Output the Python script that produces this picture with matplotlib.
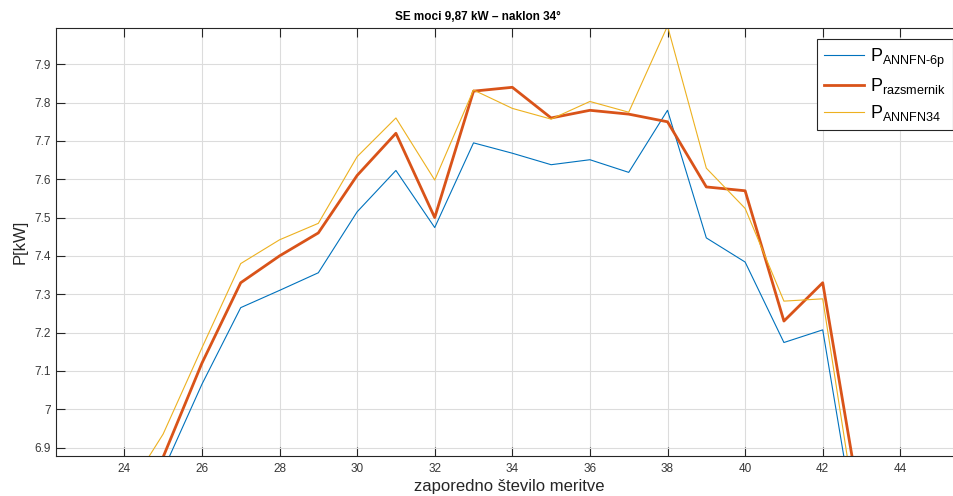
import matplotlib
matplotlib.use("Agg")
import matplotlib.pyplot as plt
from matplotlib.ticker import FuncFormatter, MultipleLocator

plt.rcParams["font.family"] = ["Liberation Sans", "DejaVu Sans"]
plt.rcParams["mathtext.fontset"] = "custom"
plt.rcParams["mathtext.rm"] = "Liberation Sans"
plt.rcParams["mathtext.default"] = "regular"

# measurement index
meritev = list(range(24, 44))

# P ANNFN-6p
p_annfn6p = [6.60, 6.84, 7.065, 7.265, 7.31, 7.356, 7.515, 7.623, 7.474, 7.695,
             7.668, 7.638, 7.651, 7.618, 7.780, 7.447, 7.384, 7.174, 7.207, 6.60]
# P razsmernik (inverter)
p_razsmernik = [6.70, 6.875, 7.12, 7.33, 7.40, 7.46, 7.61, 7.72, 7.50, 7.83,
                7.84, 7.76, 7.78, 7.77, 7.75, 7.58, 7.57, 7.23, 7.33, 6.73]
# P ANNFN34
p_annfn34 = [6.774, 6.935, 7.16, 7.38, 7.442, 7.485, 7.659, 7.760, 7.598, 7.833,
             7.785, 7.757, 7.803, 7.775, 8.00, 7.629, 7.524, 7.282, 7.288, 6.636]

labels = [r"$P_{ANNFN\text{-}6p}$", r"$P_{razsmernik}$", r"$P_{ANNFN34}$"]

fig = plt.figure(figsize=(9.54, 4.96), dpi=100)
ax = fig.add_axes([0.0582, 0.080, 0.9502, 0.8645])

ax.plot(meritev, p_annfn6p, color="#0072BD", lw=0.8, label=labels[0])
ax.plot(meritev, p_razsmernik, color="#D95319", lw=2.0, label=labels[1])
ax.plot(meritev, p_annfn34, color="#EDB120", lw=0.8, label=labels[2])

ax.set_xlim(22.227, 45.59)
ax.set_ylim(6.877, 7.996)
ax.xaxis.set_major_locator(MultipleLocator(2))
ax.yaxis.set_major_locator(MultipleLocator(0.1))
ax.yaxis.set_major_formatter(FuncFormatter(lambda v, p: f"{v:g}"))

ax.grid(True, color="#dcdcdc", lw=0.8)
ax.set_axisbelow(True)
for s in ax.spines.values():
    s.set_color("#262626")
    s.set_linewidth(0.8)
ax.tick_params(direction="in", length=6.5, width=0.8, colors="#262626",
               labelsize=8.5, top=True, right=True, labelcolor="#383838")
ax.tick_params(axis="x", pad=5)

ax.set_xlabel("zaporedno število meritve", fontsize=12, color="#262626", labelpad=3)
ax.set_ylabel("P[kW]", fontsize=12, color="#262626", labelpad=5)
fig.text(478 / 954, 1 - 17 / 496, "SE moci 9,87 kW – naklon 34°", ha="center",
         va="center", fontsize=8.5, fontweight="bold", color="black")

leg = ax.legend(loc="upper right", bbox_to_anchor=(0.9897, 0.973), borderaxespad=0,
                fontsize=13, handlelength=2.2, fancybox=False, framealpha=1,
                labelspacing=0.38, borderpad=0.4, handletextpad=0.3)
leg.get_frame().set_edgecolor("#262626")
leg.get_frame().set_linewidth(0.8)

fig.savefig("out.png", dpi=100)
